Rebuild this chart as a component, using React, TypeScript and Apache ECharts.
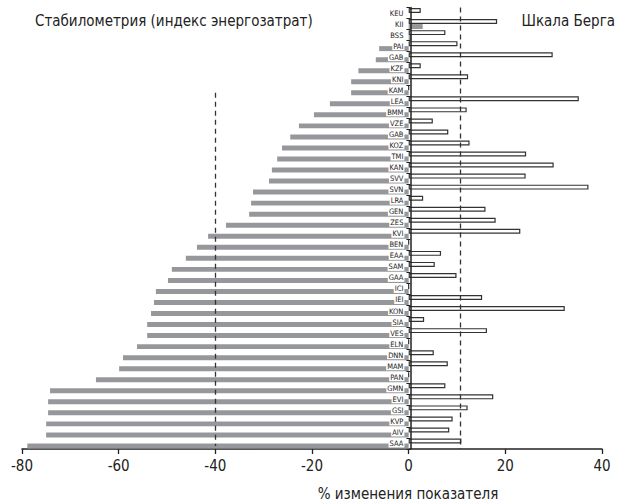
import React, { useEffect, useRef } from "react";
import * as echarts from "echarts";

const categories = [
  "KEU", "KII", "BSS", "PAI", "GAB", "KZF", "KNI", "KAM", "LEA", "BMM",
  "VZE", "GAB", "KOZ", "TMI", "KAN", "SVV", "SVN", "LRA", "GEN", "ZES",
  "KVI", "BEN", "EAA", "SAM", "GAA", "ICI", "IEI", "KON", "SIA", "VES",
  "ELN", "DNN", "MAM", "PAN", "GMN", "EVI", "GSI", "KVP", "AIV", "SAA",
];

// Шкала Берга (white bars)
const bergValues = [
  2.5, 18.3, 7.6, 10.1, 29.8, 2.5, 12.3, 0, 35.2, 12.0,
  5.0, 8.2, 12.6, 24.3, 30.0, 24.2, 37.2, 3.0, 15.9, 18.0,
  23.1, 0, 6.7, 5.4, 9.9, 0, 15.2, 32.3, 3.2, 16.2,
  0, 5.2, 8.1, 0, 7.6, 17.5, 12.2, 9.1, 8.4, 10.9,
];

// Стабилометрия (grey bars)
const stabValues = [
  0, 2.9, 0.6, -6.1, -6.8, -10.4, -11.9, -11.9, -16.3, -19.6,
  -22.7, -24.5, -26.2, -27.2, -28.3, -28.9, -32.2, -32.6, -33.0, -37.8,
  -41.5, -43.8, -46.1, -49.0, -49.8, -52.3, -52.7, -53.3, -54.1, -54.1,
  -56.2, -59.1, -59.9, -64.7, -74.2, -74.6, -74.6, -75.0, -75.0, -78.9,
];

const xTicks = { min: -80, max: 40, interval: 20 };
const leftRef = -40;
const rightRef = 10.6;
const leftRefStartIndex = 7;

const titleLeft = "Стабилометрия (индекс энергозатрат)";
const titleRight = "Шкала Берга";
const xName = "% изменения показателя";

const NARROW = "'Liberation Sans Narrow', 'DejaVu Sans Condensed', 'Arial Narrow', sans-serif";
const GRID_LEFT = 22;

export default function App() {
  const ref = useRef<HTMLDivElement>(null);
  useEffect(() => {
    if (!ref.current) return;
    const chart = echarts.init(ref.current, null, { renderer: "svg" });
    const dash = { type: [5, 4] as number[], color: "#333", width: 1.3 };
    chart.setOption({
      animation: false,
      backgroundColor: "#fff",
      grid: { left: GRID_LEFT, right: 27, top: 7.5, bottom: 52, containLabel: false },
      xAxis: {
        type: "value",
        min: xTicks.min,
        max: xTicks.max,
        interval: xTicks.interval,
        splitLine: { show: false },
        axisLine: { show: true, onZero: false, lineStyle: { color: "#222", width: 1.5 } },
        axisTick: { show: true, length: 5, lineStyle: { color: "#222", width: 1.3 } },
        axisLabel: { fontSize: 15, fontFamily: NARROW, color: "#222", margin: 9 },
      },
      yAxis: {
        type: "category",
        inverse: true,
        data: categories,
        z: 5,
        position: "left",
        offset: 0,
        axisLine: { show: true, onZero: false, lineStyle: { color: "#222", width: 1.5 } },
        axisTick: { show: true, length: 4, alignWithLabel: false, lineStyle: { color: "#222", width: 1 } },
        axisLabel: {
          fontSize: 7.5,
          fontFamily: NARROW,
          color: "#222",
          margin: 6,
          interval: 0,
          backgroundColor: "#fff",
          padding: [0, 1],
        },
      },
      series: [
        {
          name: titleRight,
          type: "bar",
          data: bergValues,
          barGap: "0%",
          barCategoryGap: "10%",
          itemStyle: { color: "#fff", borderColor: "#333", borderWidth: 1.2 },
        },
        {
          name: titleLeft,
          type: "bar",
          data: stabValues,
          barGap: "0%",
          barCategoryGap: "10%",
          itemStyle: { color: "#96979b" },
          markLine: {
            silent: true,
            symbol: "none",
            z: 6,
            label: { show: false },
            lineStyle: dash,
            data: [
              { xAxis: rightRef },
              [
                { coord: [leftRef, leftRefStartIndex] },
                { coord: [leftRef, categories.length - 1] },
              ],
            ],
          },
        },
      ],
      graphic: [
        {
          type: "text",
          left: 35,
          top: 13,
          style: { text: titleLeft, fontSize: 15, fontFamily: NARROW, fill: "#222" },
        },
        {
          type: "text",
          right: 14,
          top: 13,
          style: { text: titleRight, fontSize: 15, fontFamily: NARROW, fill: "#222" },
        },
        {
          type: "text",
          x: 408,
          y: 486,
          style: { text: xName, fontSize: 15, fontFamily: NARROW, fill: "#222", align: "center" },
        },
      ],
    });
    // place the category axis on the value axis' zero
    const zeroPx = chart.convertToPixel({ xAxisIndex: 0 }, 0) as number;
    chart.setOption({ yAxis: { offset: -(zeroPx - GRID_LEFT) } });
    return () => chart.dispose();
  }, []);
  return (
    <div
      ref={ref}
      style={{ position: "fixed", left: 0, top: 0, width: 629, height: 501 }}
    />
  );
}
